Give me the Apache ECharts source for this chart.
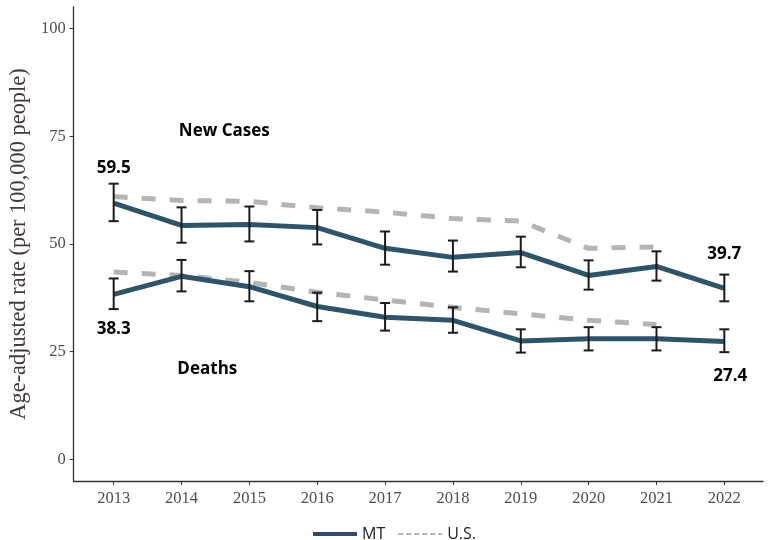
<!DOCTYPE html>
<html>
<head>
<meta charset="utf-8">
<script src="https://cdn.jsdelivr.net/npm/echarts@6/dist/echarts.min.js"></script>
<style>
  html, body { margin: 0; padding: 0; background: #ffffff; }
  #chart { width: 768px; height: 540px; }
</style>
</head>
<body>
<div id="chart"></div>
<script>
// Years on the horizontal axis
const years = [2013, 2014, 2015, 2016, 2017, 2018, 2019, 2020, 2021, 2022];

// Montana age-adjusted rates (per 100,000) with 95% confidence limits
const mtCases      = [59.5, 54.3, 54.5, 53.8, 49.0, 46.9, 48.0, 42.7, 44.8, 39.7];
const mtCasesLow   = [55.3, 50.3, 50.6, 49.9, 45.2, 43.6, 44.6, 39.4, 41.5, 36.7];
const mtCasesHigh  = [64.0, 58.5, 58.7, 57.9, 52.9, 50.8, 51.7, 46.2, 48.3, 42.9];
const mtDeaths     = [38.3, 42.5, 40.1, 35.5, 33.0, 32.3, 27.5, 28.0, 28.0, 27.4];
const mtDeathsLow  = [34.9, 39.0, 36.7, 32.1, 29.9, 29.4, 24.8, 25.3, 25.3, 24.9];
const mtDeathsHigh = [42.0, 46.3, 43.7, 38.7, 36.3, 35.3, 30.2, 30.7, 30.7, 30.2];

// U.S. rates (no 2022 value)
const usCases  = [61.0, 60.1, 59.9, 58.4, 57.4, 55.9, 55.3, 49.0, 49.3, null];
const usDeaths = [43.5, 42.7, 41.1, 38.8, 37.0, 35.3, 33.8, 32.3, 31.3, null];

// Axis ticks
const yTicks = [0, 25, 50, 75, 100];

// Panel annotations in data coordinates: [x, y, text]
const notes = [
  [2014.63, 76.2, 'New Cases'],
  [2014.38, 21.0, 'Deaths']
];

const MT_COLOR = '#2d5468';
const MT_KEY_COLOR = '#2f4c6c';
const US_COLOR = '#b4b4b4';
const LABEL_FONT = '"Open Sans", "Noto Sans", sans-serif';
const SERIF = '"Liberation Serif", "DejaVu Serif", serif';
const last = years.length - 1;

function pairs(vals) {
  return years.map((y, i) => [y, vals[i]]);
}

// First and last Montana values, written above or below their points
const valueLabels = [
  { value: [years[0], mtCases[0]], pos: 'top', dx: 0 },
  { value: [years[last], mtCases[last]], pos: 'top', dx: 0 },
  { value: [years[0], mtDeaths[0]], pos: 'bottom', dx: 0 },
  { value: [years[last], mtDeaths[last]], pos: 'bottom', dx: 6 }
];

function errorBars(low, high) {
  return {
    type: 'custom',
    silent: true,
    z: 5,
    data: years.map((y, i) => [y, low[i], high[i]]),
    encode: { x: 0, y: [1, 2] },
    renderItem: function (params, api) {
      const lo = api.coord([api.value(0), api.value(1)]);
      const hi = api.coord([api.value(0), api.value(2)]);
      const half = 5;
      const st = { stroke: '#1b1b1b', lineWidth: 2 };
      return {
        type: 'group',
        children: [
          { type: 'line', shape: { x1: lo[0], y1: lo[1], x2: hi[0], y2: hi[1] }, style: st },
          { type: 'line', shape: { x1: lo[0] - half, y1: lo[1], x2: lo[0] + half, y2: lo[1] }, style: st },
          { type: 'line', shape: { x1: hi[0] - half, y1: hi[1], x2: hi[0] + half, y2: hi[1] }, style: st }
        ]
      };
    }
  };
}

const boldText = {
  fontFamily: LABEL_FONT,
  fontWeight: 'bold',
  fontSize: 17,
  color: '#000000',
  opacity: 1
};

const usLine = { color: US_COLOR, width: 5, type: [14, 14] };
const mtLine = { color: MT_COLOR, width: 5 };

const chart = echarts.init(document.getElementById('chart'), null, { renderer: 'canvas' });

chart.setOption({
  animation: false,
  backgroundColor: '#ffffff',
  color: [MT_COLOR, US_COLOR],
  grid: { left: 71, right: 5, top: 7, bottom: 59 },
  xAxis: {
    type: 'value',
    min: 2012.41,
    max: 2022.57,
    splitLine: { show: false },
    axisLine: { show: true, onZero: false, lineStyle: { color: '#333333', width: 1.3 } },
    axisTick: { show: true, customValues: years, length: 4, lineStyle: { color: '#333333' } },
    axisLabel: {
      customValues: years,
      margin: 9,
      fontFamily: SERIF,
      fontSize: 16.5,
      color: '#4d4d4d',
      formatter: v => String(v)
    }
  },
  yAxis: {
    type: 'value',
    min: -5,
    max: 105,
    splitLine: { show: false },
    axisLine: { show: true, onZero: false, lineStyle: { color: '#333333', width: 1.3 } },
    axisTick: { show: true, customValues: yTicks, length: 4, lineStyle: { color: '#333333' } },
    axisLabel: {
      customValues: yTicks,
      margin: 8,
      fontFamily: SERIF,
      fontSize: 16.5,
      color: '#4d4d4d'
    },
    name: 'Age-adjusted rate (per 100,000 people)',
    nameLocation: 'middle',
    nameGap: 35,
    nameTextStyle: {
      fontFamily: SERIF,
      fontSize: 22.4,
      color: '#443838'
    }
  },
  legend: {
    top: 521,
    left: 306,
    itemWidth: 44,
    itemHeight: 14,
    itemGap: 12,
    textStyle: { fontFamily: LABEL_FONT, fontSize: 16, color: '#222222' },
    itemStyle: { opacity: 0 },
    data: [
      { name: 'MT', lineStyle: { color: MT_KEY_COLOR, width: 4 } },
      { name: 'U.S.', lineStyle: { color: US_COLOR, width: 2, type: [5, 3] } }
    ]
  },
  series: [
    { name: 'U.S.', type: 'line', data: pairs(usCases), symbol: 'none', itemStyle: { color: US_COLOR }, lineStyle: usLine, z: 2 },
    { name: 'U.S.', type: 'line', data: pairs(usDeaths), symbol: 'none', itemStyle: { color: US_COLOR }, lineStyle: usLine, z: 2 },
    { name: 'MT', type: 'line', data: pairs(mtCases), symbol: 'none', itemStyle: { color: MT_COLOR }, lineStyle: mtLine, z: 3 },
    { name: 'MT', type: 'line', data: pairs(mtDeaths), symbol: 'none', itemStyle: { color: MT_COLOR }, lineStyle: mtLine, z: 3 },
    errorBars(mtCasesLow, mtCasesHigh),
    errorBars(mtDeathsLow, mtDeathsHigh),
    {
      type: 'scatter',
      silent: true,
      symbolSize: 0,
      itemStyle: { opacity: 1 },
      data: valueLabels.map(d => ({
        value: d.value,
        label: { position: d.pos, offset: [d.dx, 0] }
      })),
      label: Object.assign({
        show: true,
        distance: 26,
        formatter: p => p.value[1].toFixed(1)
      }, boldText)
    },
    {
      type: 'scatter',
      silent: true,
      symbolSize: 0,
      itemStyle: { opacity: 1 },
      data: notes.map(n => ({ value: [n[0], n[1]], name: n[2] })),
      label: Object.assign({
        show: true,
        position: 'inside',
        formatter: p => p.name
      }, boldText)
    }
  ]
});
</script>
</body>
</html>
